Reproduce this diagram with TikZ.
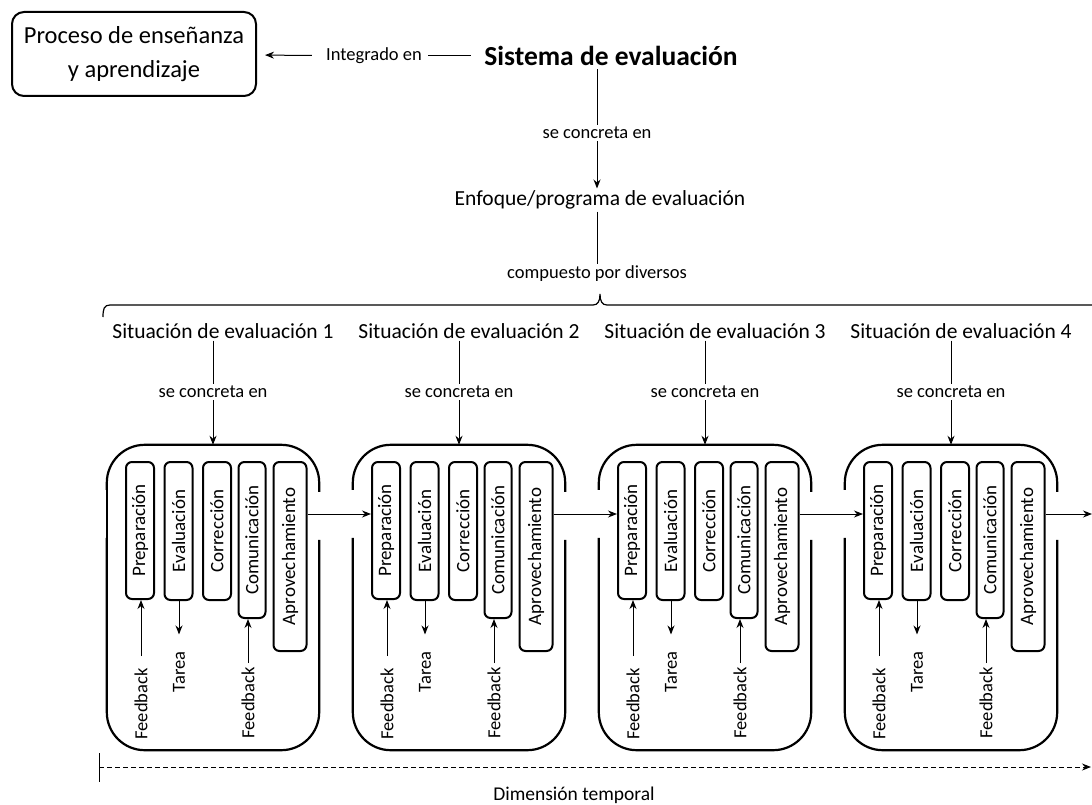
\documentclass[tikz,border=0pt]{standalone}
\usepackage{fontspec}
\setmainfont{Carlito}
\usetikzlibrary{arrows.meta,positioning,calc}

\begin{document}
\begin{tikzpicture}[
    x=1pt, y=-1pt,
    big/.style={font=\fontsize{24.5}{34}\selectfont},
    title/.style={font=\fontsize{21.5}{26}\selectfont, inner sep=2pt},
    note/.style={font=\fontsize{18.5}{22}\selectfont, inner sep=2pt},
    outer/.style={minimum width=212pt, minimum height=305pt, inner sep=0pt},
    phase/.style={rectangle, draw, line width=2pt, rounded corners=6pt, rotate=90, anchor=east, inner sep=0pt, minimum height=28pt, font=\fontsize{19}{22}\selectfont},
    frame/.style={line width=2.2pt, rounded corners=38pt},
    arrow/.style={->, >={Stealth[length=9pt, width=7pt]}, line width=1pt}
]
    \useasboundingbox (0,0) rectangle (1092,805);

    % Top part
    \node[big, draw, line width=2pt, rounded corners=12pt, minimum width=244pt, minimum height=84pt, align=center] (proceso) at (134,54) {Proceso de enseñanza\\y aprendizaje};
    \node[note] (integ) at (374,56) {Integrado en};
    \node[font=\fontsize{27.5}{32}\selectfont\bfseries] (sistema) at (611,56) {Sistema de evaluación};
    \node[note] (concA) at (597,133) {se concreta en};
    \node[title] (enfoque) at (600,200) {Enfoque/programa de evaluación};
    \node[note] (compuesto) at (597,274) {compuesto por diversos};

    \draw[line width=1pt, shorten <=10pt, shorten >=4pt] (sistema) -- (integ);
    \draw[arrow, shorten <=12pt, shorten >=8pt] (integ) -- (proceso);
    \draw[line width=1pt] (sistema.south -| concA) -- (concA);
    \draw[arrow] (concA) -- (enfoque.north -| concA);
    \draw[line width=1pt] (enfoque.south -| compuesto) -- (compuesto);

    % Brace over the situations
    \draw[line width=1.2pt] (103,317) .. controls (103,309) and (104,305) .. (110,305) -- (593,305)
        .. controls (598,305) and (600,301) .. (600,294) .. controls (600,301) and (602,305) .. (607,305) -- (1092,305);

    % Situations
    \foreach \i/\L in {1/107, 2/353, 3/599, 4/845} {
        \node[title] (sit\i) at ({\L+116},331) {Situación de evaluación \i};
        \node[note] (conc\i) at ({\L+106},392) {se concreta en};
        \node[outer] (box\i) at ({\L+106},597.5) {};

        \draw[frame] ([yshift=-45pt]box\i.north west) |- (box\i.north) -| ([yshift=-47pt]box\i.north east);
        \draw[frame] ([yshift=-95pt]box\i.north east) |- (box\i.south) -| ([yshift=-93pt]box\i.north west);

        \node[phase, minimum width=137pt] (prep\i) at ({\L+33},461) {Preparación};
        \node[phase, minimum width=138pt] (eval\i) at ({\L+71.5},461) {Evaluación};
        \node[phase, minimum width=138pt] (corr\i) at ({\L+110},461) {Corrección};
        \node[phase, minimum width=156pt, minimum height=27pt] (comu\i) at ({\L+145},461) {Comunicación};
        \node[phase, minimum width=189pt, minimum height=33pt] (aprov\i) at ({\L+183},461) {Aprovechamiento};

        \node[note, rotate=90] (fbA\i) at ({\L+34},704) {Feedback};
        \node[note, rotate=90] (tarea\i) at ({\L+72},672) {Tarea};
        \node[note, rotate=90] (fbB\i) at ({\L+141},703) {Feedback};

        \draw[line width=1pt] (sit\i.south -| conc\i) -- (conc\i);
        \draw[arrow] (conc\i) -- (box\i.north);
        \draw[arrow, shorten <=10pt] (fbA\i.east) -- (fbA\i.east |- prep\i.west);
        \draw[arrow, shorten >=15pt] (tarea\i.east |- eval\i.west) -- (tarea\i.east);
        \draw[arrow, shorten <=2pt] (fbB\i.east) -- (fbB\i.east |- comu\i.west);
    }
    \draw[frame] ([yshift=-40pt]box1.north west) -- ([yshift=-100pt]box1.north west);

    % Flow between situations
    \coordinate (salida) at (1092,514);
    \draw[arrow] (aprov1.south |- salida) -- (prep2.north |- salida);
    \draw[arrow] (aprov2.south |- salida) -- (prep3.north |- salida);
    \draw[arrow] (aprov3.south |- salida) -- (prep4.north |- salida);
    \draw[arrow] (aprov4.south |- salida) -- (salida);

    % Time axis
    \coordinate (t0) at (99,767);
    \coordinate (t1) at (1091,767);
    \node[title, font=\fontsize{19.5}{24}\selectfont] (tiempo) at (574,795) {Dimensión temporal};
    \draw[line width=1pt] ([yshift=14pt]t0) -- ([yshift=-15pt]t0);
    \draw[arrow, dash pattern=on 5pt off 3pt] (t0) -- (t1);
\end{tikzpicture}
\end{document}
